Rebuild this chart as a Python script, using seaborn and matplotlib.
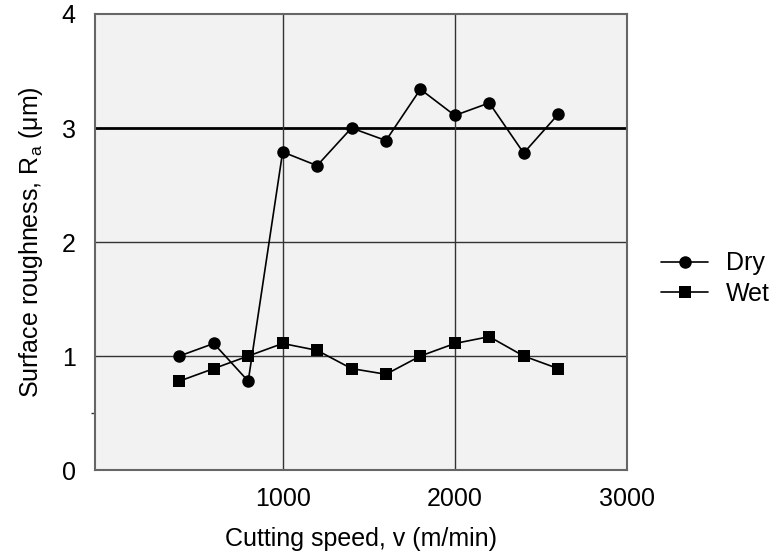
import pandas as pd
import seaborn as sns
import matplotlib.pyplot as plt
from matplotlib.ticker import FixedLocator

speed = [400, 600, 800, 1000, 1200, 1400, 1600, 1800, 2000, 2200, 2400, 2600]
dry = [1.00, 1.11, 0.78, 2.79, 2.67, 3.00, 2.89, 3.34, 3.11, 3.22, 2.78, 3.12]
wet = [0.78, 0.89, 1.00, 1.11, 1.05, 0.89, 0.84, 1.00, 1.11, 1.17, 1.00, 0.89]
conditions = ['Dry', 'Wet']
x_ticks = [1000, 2000, 3000]
y_ticks = [0, 1, 2, 3, 4]

df = pd.DataFrame({
    'speed': speed * 2,
    'Ra': dry + wet,
    'cond': ['Dry'] * len(dry) + ['Wet'] * len(wet),
})

sns.set_style('white')
plt.rcParams['font.family'] = ['Liberation Sans', 'DejaVu Sans']
plt.rcParams['mathtext.fontset'] = 'custom'
plt.rcParams['mathtext.rm'] = 'Liberation Sans'
plt.rcParams['text.color'] = 'black'
plt.rcParams['axes.labelcolor'] = 'black'
plt.rcParams['xtick.color'] = 'black'
plt.rcParams['ytick.color'] = 'black'

fig = plt.figure(figsize=(7.71, 5.53), dpi=100)
ax = fig.add_axes([0.1232, 0.150, 0.690, 0.8247])
ax.set_facecolor('#f2f2f2')

ax.axhline(3, color='black', lw=2.0, zorder=1)
for yv in [1, 2]:
    ax.axhline(yv, color='#333333', lw=1.0, zorder=1)
for xv in [1000, 2000]:
    ax.axvline(xv, color='#333333', lw=1.0, zorder=1)

sns.lineplot(data=df, x='speed', y='Ra', hue='cond', style='cond',
             markers={'Dry': 'o', 'Wet': 's'}, dashes=False,
             palette={'Dry': 'black', 'Wet': 'black'},
             markersize=9, markeredgewidth=0, lw=1.2, ax=ax, zorder=3)
for line in ax.lines:
    if line.get_marker() == 's':
        line.set_markersize(8)

ax.set_xlim(-90, 3000)
ax.set_ylim(0, 4)
ax.set_xticks(x_ticks)
ax.set_yticks(y_ticks)
ax.yaxis.set_minor_locator(FixedLocator([0.5]))
ax.tick_params(axis='both', which='major', direction='out', length=3,
               width=1, color='#333333', labelsize=18, pad=9)
ax.tick_params(axis='y', which='minor', direction='out', length=3,
               width=1, color='#333333', left=True)
ax.tick_params(axis='y', which='major', pad=11)
for s in ax.spines.values():
    s.set_color('#666666')
    s.set_linewidth(1.5)

ax.set_xlabel('Cutting speed, v (m/min)', fontsize=18, labelpad=12)
ax.set_ylabel(r'Surface roughness, R$\mathregular{_a}$ (μm)', fontsize=18, labelpad=12)

handles, labels = ax.get_legend_handles_labels()
ax.legend(handles, labels, loc='center left', bbox_to_anchor=(1.045, 0.42),
          borderaxespad=0, frameon=False, fontsize=18, handlelength=1.9,
          labelspacing=0.25, handletextpad=0.7)

fig.savefig('out.png', dpi=100)
